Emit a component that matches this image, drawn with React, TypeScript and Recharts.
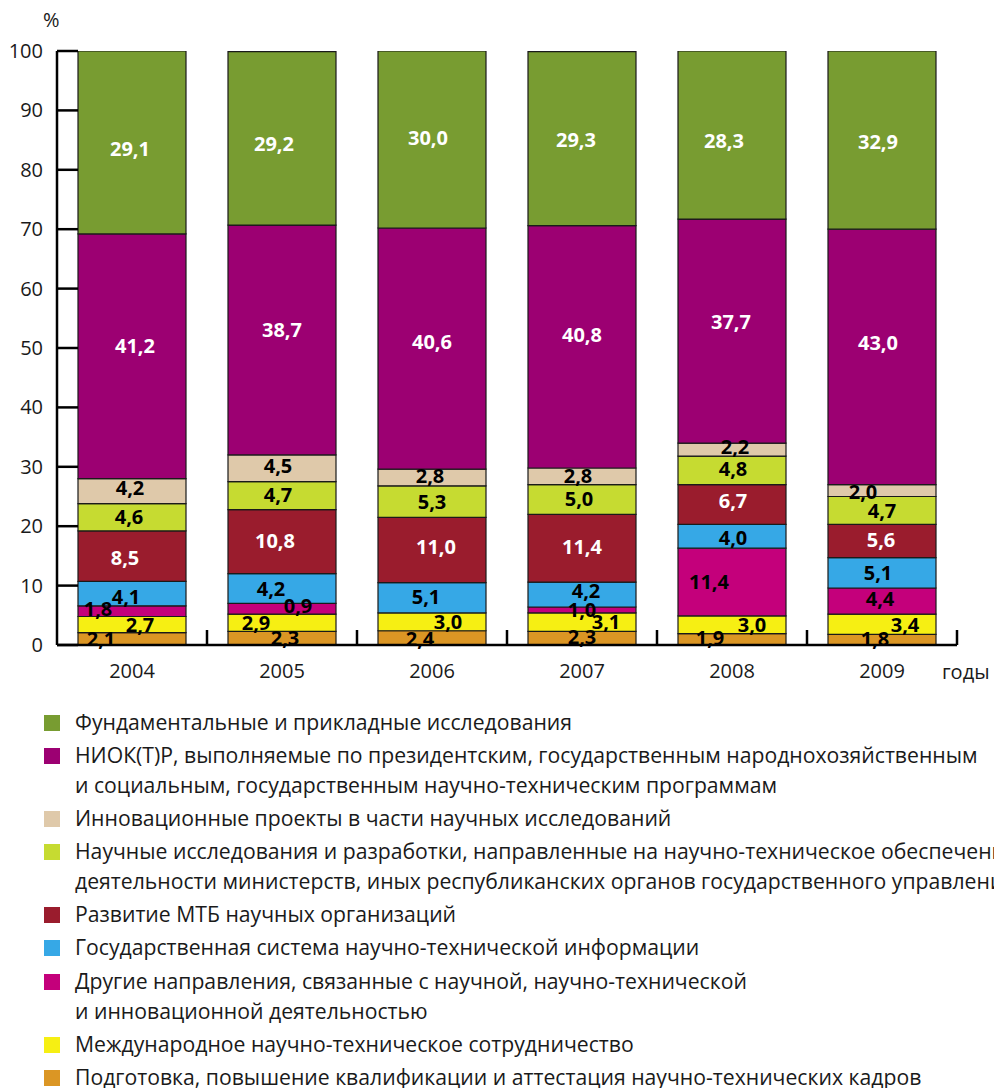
import { BarChart, Bar, XAxis, YAxis, LabelList } from "recharts";

const years = ["2004", "2005", "2006", "2007", "2008", "2009"];
const yTicks = [0, 10, 20, 30, 40, 50, 60, 70, 80, 90, 100];

// printed shares, %
const fundamental = [29.1, 29.2, 30.0, 29.3, 28.3, 32.9];
const niokr = [41.2, 38.7, 40.6, 40.8, 37.7, 43.0];
const innovation = [4.2, 4.5, 2.8, 2.8, 2.2, 2.0];
const ministries = [4.6, 4.7, 5.3, 5.0, 4.8, 4.7];
const mtb = [8.5, 10.8, 11.0, 11.4, 6.7, 5.6];
const infoSystem = [4.1, 4.2, 5.1, 4.2, 4.0, 5.1];
const otherDirections = [1.8, 0.9, null, 1.0, 11.4, 4.4];
const international = [2.7, 2.9, 3.0, 3.1, 3.0, 3.4];
const training = [2.1, 2.3, 2.4, 2.3, 1.9, 1.8];

// segment heights as drawn, where the picture differs from the printed numbers
const fundamentalDrawn = [30.8, 29.2, 30.0, 29.3, 28.3, 30.0];
const infoSystemDrawn = [4.1, 5.0, 5.1, 4.2, 4.0, 5.1];
const otherDirectionsDrawn = [1.8, 1.8, null, 1.0, 11.4, 4.4];

const W = 994;
const PLOT_LEFT = 57;
const RIGHT_MARGIN = 37;
const PLOT_TOP = 51;
const PLOT_BOTTOM = 645;
const BAND = (W - PLOT_LEFT - RIGHT_MARGIN) / years.length;
const FONT = "'Open Sans', sans-serif";
const INK = "#1a1a1a";

type Series = {
  key: string;
  name: string[];
  color: string;
  values: (number | null)[];
  drawn: (number | null)[];
  text: string;
};

// bottom of the stack first
const series: Series[] = [
  {
    key: "training",
    name: ["Подготовка, повышение квалификации и аттестация научно-технических кадров"],
    color: "#db9624",
    values: training,
    drawn: training,
    text: "#000",
  },
  {
    key: "international",
    name: ["Международное научно-техническое сотрудничество"],
    color: "#f6ef13",
    values: international,
    drawn: international,
    text: "#000",
  },
  {
    key: "other",
    name: [
      "Другие направления, связанные с научной, научно-технической",
      "и инновационной деятельностью",
    ],
    color: "#c4007b",
    values: otherDirections,
    drawn: otherDirectionsDrawn,
    text: "#000",
  },
  {
    key: "info",
    name: ["Государственная система научно-технической информации"],
    color: "#36a8e6",
    values: infoSystem,
    drawn: infoSystemDrawn,
    text: "#000",
  },
  {
    key: "mtb",
    name: ["Развитие МТБ научных организаций"],
    color: "#9a1c2d",
    values: mtb,
    drawn: mtb,
    text: "#fff",
  },
  {
    key: "ministries",
    name: [
      "Научные исследования и разработки, направленные на научно-техническое обеспечение",
      "деятельности министерств, иных республиканских органов государственного управления",
    ],
    color: "#c6db31",
    values: ministries,
    drawn: ministries,
    text: "#000",
  },
  {
    key: "innovation",
    name: ["Инновационные проекты в части научных исследований"],
    color: "#dfc9aa",
    values: innovation,
    drawn: innovation,
    text: "#000",
  },
  {
    key: "niokr",
    name: [
      "НИОК(Т)Р, выполняемые по президентским, государственным народнохозяйственным",
      "и социальным, государственным научно-техническим программам",
    ],
    color: "#9c0072",
    values: niokr,
    drawn: niokr,
    text: "#fff",
  },
  {
    key: "fundamental",
    name: ["Фундаментальные и прикладные исследования"],
    color: "#789c31",
    values: fundamental,
    drawn: fundamentalDrawn,
    text: "#fff",
  },
];

// label nudges [dx, dy] per year, the printed labels are not always centred
const labelShift: Record<string, number[][]> = {
  training: [[-31, 0], [3, 0], [-12, 1], [0, -1], [-22, -1], [-7, -1]],
  international: [[8, 0], [-26, 0], [16, 0], [24, 0], [20, 0], [23, 1]],
  other: [[-34, -2], [16, -3], [0, 0], [-23, 0], [-2, -2], [8, 0]],
  info: [[-6, 3], [-11, 0], [-6, -1], [4, -4], [1, 2], [-4, 0]],
  mtb: [[-7, 2], [-7, -1], [4, -3], [0, -1], [1, -4], [-1, -1]],
  ministries: [[-3, 0], [-4, -1], [0, 0], [-3, 0], [1, -1], [0, 1]],
  innovation: [[-2, -3], [-4, -2], [-2, -1], [-4, 0], [3, -3], [-19, 1]],
  niokr: [[3, -10], [0, -10], [0, -7], [0, -12], [-1, -9], [-4, -14]],
  fundamental: [[-2, 7], [-8, 6], [-4, -2], [-6, 1], [-8, 6], [-4, 2]],
};

const rows = years.map((year, i) => {
  const row: Record<string, any> = { year };
  series.forEach((s) => {
    row[s.key] = s.drawn[i];
    row[s.key + "Label"] = s.values[i];
  });
  return row;
});

const fmt = (v: number) => v.toFixed(1).replace(".", ",");

const makeLabel = (s: Series) => (props: any) => {
  const { x, y, width, height, value } = props;
  if (value === null || value === undefined) return null;
  let idx = props.index;
  if (typeof idx !== "number") idx = Math.floor((Number(x) - PLOT_LEFT) / BAND);
  const [dx, dy] = labelShift[s.key][idx] || [0, 0];
  const cx = Number(x) + Number(width) / 2 + dx;
  const cy = Number(y) + Number(height) / 2 + dy;
  return (
    <text
      x={cx}
      y={cy + 7}
      textAnchor="middle"
      fontFamily={FONT}
      fontWeight={700}
      fontSize={20}
      fill={s.text}
    >
      {fmt(value)}
    </text>
  );
};

const YTick = (props: any) => {
  const { y, payload } = props;
  return (
    <g>
      <line x1={PLOT_LEFT} x2={PLOT_LEFT + 21} y1={y} y2={y} stroke="#000" strokeWidth={2.5} />
      <text x={PLOT_LEFT - 14} y={y + 7} textAnchor="end" fontFamily={FONT} fontSize={20} fill={INK}>
        {payload.value}
      </text>
    </g>
  );
};

const XTick = (props: any) => {
  const { x, payload } = props;
  return (
    <g>
      <line
        x1={x + BAND / 2}
        x2={x + BAND / 2}
        y1={PLOT_BOTTOM}
        y2={PLOT_BOTTOM - 15}
        stroke="#000"
        strokeWidth={2.5}
      />
      <text x={x} y={PLOT_BOTTOM + 33} textAnchor="middle" fontFamily={FONT} fontSize={20} fill={INK}>
        {payload.value}
      </text>
    </g>
  );
};

export default function App() {
  const legendItems = [...series].reverse();
  return (
    <div
      style={{
        position: "absolute",
        left: 0,
        top: 0,
        width: W,
        height: 1088,
        overflow: "hidden",
        background: "#fff",
        fontFamily: FONT,
        color: INK,
      }}
    >
      <div style={{ position: "absolute", left: 43, top: 5, fontSize: 20, lineHeight: "30px" }}>%</div>
      <BarChart
        width={W}
        height={700}
        data={rows}
        margin={{ top: PLOT_TOP, right: RIGHT_MARGIN, bottom: 0, left: 0 }}
      >
        <XAxis
          dataKey="year"
          height={700 - PLOT_BOTTOM}
          axisLine={{ stroke: "#000", strokeWidth: 2.5 }}
          tickLine={false}
          tick={<XTick />}
          interval={0}
        />
        <YAxis
          type="number"
          width={PLOT_LEFT}
          domain={[0, 100]}
          allowDataOverflow
          ticks={yTicks}
          interval={0}
          axisLine={{ stroke: "#000", strokeWidth: 2.5 }}
          tickLine={false}
          tick={<YTick />}
        />
        {series.map((s) => (
          <Bar
            key={s.key}
            dataKey={s.key}
            stackId="a"
            fill={s.color}
            stroke="#1a1a1a"
            strokeWidth={1.2}
            barSize={108}
            isAnimationActive={false}
          >
            <LabelList dataKey={s.key + "Label"} content={makeLabel(s)} />
          </Bar>
        ))}
      </BarChart>
      <div style={{ position: "absolute", left: 942, top: 657, fontSize: 20, lineHeight: "30px" }}>годы</div>
      <div style={{ position: "absolute", left: 0, top: 707, width: 1400 }}>
        {legendItems.map((s) => (
          <div key={s.key} style={{ position: "relative", paddingLeft: 75, marginBottom: 3.1 }}>
            <div
              style={{
                position: "absolute",
                left: 44,
                top: 8,
                width: 16,
                height: 16,
                background: s.color,
              }}
            />
            {s.name.map((line, i) => (
              <div key={i} style={{ fontSize: 21.2, lineHeight: "30px", whiteSpace: "nowrap" }}>
                {line}
              </div>
            ))}
          </div>
        ))}
      </div>
    </div>
  );
}
